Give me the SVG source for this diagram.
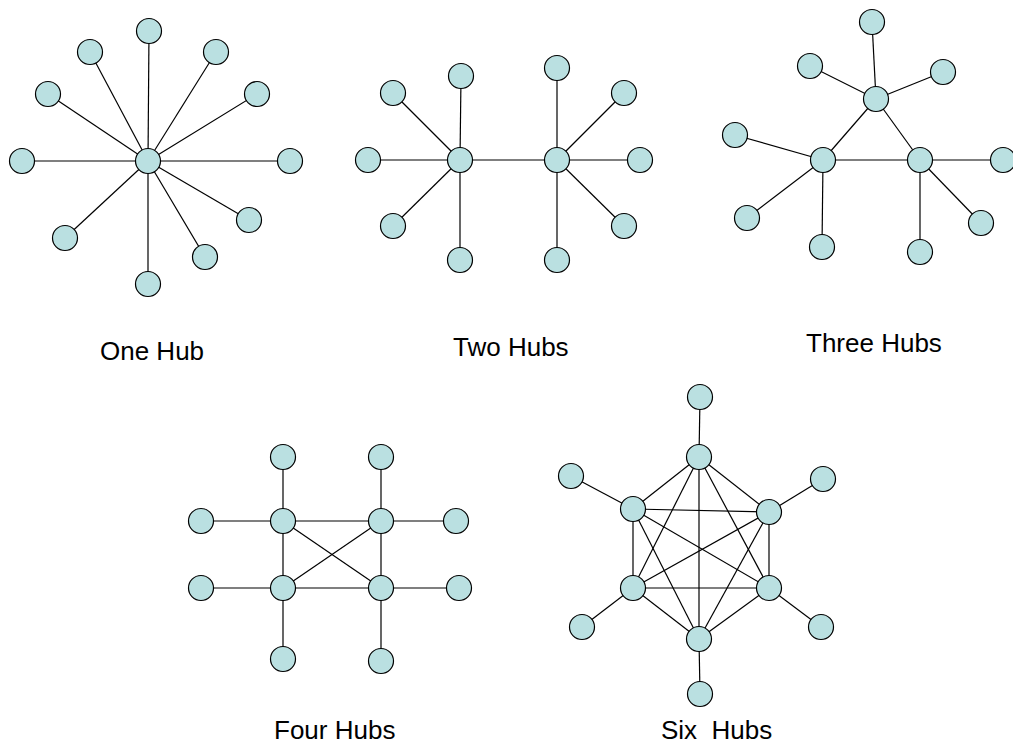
<svg xmlns="http://www.w3.org/2000/svg" width="1013" height="746" viewBox="0 0 1013 746">
<style>
.n{fill:#bae0e1;stroke:#000;stroke-width:1.2}
.e line{stroke:#000;stroke-width:1.2}
.lbl{font-family:"Liberation Sans",Arial,sans-serif;font-size:26px;fill:#000;white-space:pre}
</style>
<defs><circle id="c" r="12.5" class="n"/></defs>
<rect width="1013" height="746" fill="#fff"/>
<g id="connectors" class="e">
<!-- One hub -->
<line x1="148" y1="161" x2="149" y2="31"/>
<line x1="148" y1="161" x2="90" y2="52"/>
<line x1="148" y1="161" x2="216" y2="52"/>
<line x1="148" y1="161" x2="48" y2="94"/>
<line x1="148" y1="161" x2="257" y2="94"/>
<line x1="148" y1="161" x2="22" y2="161"/>
<line x1="148" y1="161" x2="290" y2="161"/>
<line x1="148" y1="161" x2="65" y2="238"/>
<line x1="148" y1="161" x2="249" y2="220"/>
<line x1="148" y1="161" x2="205" y2="257"/>
<line x1="148" y1="161" x2="148" y2="284"/>
<!-- Two hubs -->
<line x1="460" y1="160" x2="557" y2="160"/>
<line x1="460" y1="160" x2="461" y2="76"/>
<line x1="460" y1="160" x2="393" y2="93"/>
<line x1="460" y1="160" x2="368" y2="160"/>
<line x1="460" y1="160" x2="393" y2="226"/>
<line x1="460" y1="160" x2="460" y2="260"/>
<line x1="557" y1="160" x2="557" y2="68"/>
<line x1="557" y1="160" x2="624" y2="93"/>
<line x1="557" y1="160" x2="640" y2="160"/>
<line x1="557" y1="160" x2="624" y2="226"/>
<line x1="557" y1="160" x2="557" y2="260"/>
<!-- Three hubs -->
<line x1="876" y1="99" x2="823" y2="160"/>
<line x1="876" y1="99" x2="920" y2="160"/>
<line x1="823" y1="160" x2="920" y2="160"/>
<line x1="876" y1="99" x2="872" y2="22"/>
<line x1="876" y1="99" x2="810" y2="66"/>
<line x1="876" y1="99" x2="943" y2="72"/>
<line x1="823" y1="160" x2="735" y2="135"/>
<line x1="823" y1="160" x2="747" y2="218"/>
<line x1="823" y1="160" x2="822" y2="247"/>
<line x1="920" y1="160" x2="1003" y2="160"/>
<line x1="920" y1="160" x2="981" y2="223"/>
<line x1="920" y1="160" x2="920" y2="252"/>
<!-- Four hubs -->
<line x1="283" y1="521" x2="381" y2="521"/>
<line x1="283" y1="588" x2="381" y2="588"/>
<line x1="283" y1="521" x2="283" y2="588"/>
<line x1="381" y1="521" x2="381" y2="588"/>
<line x1="283" y1="521" x2="381" y2="588"/>
<line x1="381" y1="521" x2="283" y2="588"/>
<line x1="283" y1="521" x2="283" y2="457"/>
<line x1="381" y1="521" x2="381" y2="457"/>
<line x1="283" y1="521" x2="201" y2="521"/>
<line x1="283" y1="588" x2="201" y2="588"/>
<line x1="381" y1="521" x2="456" y2="521"/>
<line x1="381" y1="588" x2="459" y2="588"/>
<line x1="283" y1="588" x2="283" y2="659"/>
<line x1="381" y1="588" x2="381" y2="661"/>
<!-- Six hubs -->
<line x1="699" y1="457" x2="633" y2="509"/>
<line x1="699" y1="457" x2="769" y2="512"/>
<line x1="699" y1="457" x2="633" y2="588"/>
<line x1="699" y1="457" x2="769" y2="588"/>
<line x1="699" y1="457" x2="699" y2="639"/>
<line x1="633" y1="509" x2="769" y2="512"/>
<line x1="633" y1="509" x2="633" y2="588"/>
<line x1="633" y1="509" x2="769" y2="588"/>
<line x1="633" y1="509" x2="699" y2="639"/>
<line x1="769" y1="512" x2="633" y2="588"/>
<line x1="769" y1="512" x2="769" y2="588"/>
<line x1="769" y1="512" x2="699" y2="639"/>
<line x1="633" y1="588" x2="769" y2="588"/>
<line x1="633" y1="588" x2="699" y2="639"/>
<line x1="769" y1="588" x2="699" y2="639"/>
<line x1="699" y1="457" x2="700" y2="397"/>
<line x1="633" y1="509" x2="571" y2="476"/>
<line x1="769" y1="512" x2="823" y2="479"/>
<line x1="633" y1="588" x2="582" y2="627"/>
<line x1="769" y1="588" x2="821" y2="627"/>
<line x1="699" y1="639" x2="700" y2="694"/>
</g>
<g id="one-hub">
<use href="#c" x="148" y="161"/><use href="#c" x="149" y="31"/><use href="#c" x="90" y="52"/><use href="#c" x="216" y="52"/>
<use href="#c" x="48" y="94"/><use href="#c" x="257" y="94"/><use href="#c" x="22" y="161"/><use href="#c" x="290" y="161"/>
<use href="#c" x="65" y="238"/><use href="#c" x="249" y="220"/><use href="#c" x="205" y="257"/><use href="#c" x="148" y="284"/>
<text class="lbl" x="100" y="360">One Hub</text>
</g>
<g id="two-hubs">
<use href="#c" x="460" y="160"/><use href="#c" x="557" y="160"/>
<use href="#c" x="461" y="76"/><use href="#c" x="393" y="93"/><use href="#c" x="368" y="160"/><use href="#c" x="393" y="226"/><use href="#c" x="460" y="260"/>
<use href="#c" x="557" y="68"/><use href="#c" x="624" y="93"/><use href="#c" x="640" y="160"/><use href="#c" x="624" y="226"/><use href="#c" x="557" y="260"/>
<text class="lbl" x="453" y="356">Two Hubs</text>
</g>
<g id="three-hubs">
<use href="#c" x="876" y="99"/><use href="#c" x="823" y="160"/><use href="#c" x="920" y="160"/>
<use href="#c" x="872" y="22"/><use href="#c" x="810" y="66"/><use href="#c" x="943" y="72"/>
<use href="#c" x="735" y="135"/><use href="#c" x="747" y="218"/><use href="#c" x="822" y="247"/>
<use href="#c" x="1003" y="160"/><use href="#c" x="981" y="223"/><use href="#c" x="920" y="252"/>
<text class="lbl" x="806" y="352">Three Hubs</text>
</g>
<g id="four-hubs">
<use href="#c" x="283" y="521"/><use href="#c" x="381" y="521"/><use href="#c" x="283" y="588"/><use href="#c" x="381" y="588"/>
<use href="#c" x="283" y="457"/><use href="#c" x="381" y="457"/><use href="#c" x="201" y="521"/><use href="#c" x="201" y="588"/>
<use href="#c" x="456" y="521"/><use href="#c" x="459" y="588"/><use href="#c" x="283" y="659"/><use href="#c" x="381" y="661"/>
<text class="lbl" x="274" y="739">Four Hubs</text>
</g>
<g id="six-hubs">
<use href="#c" x="699" y="457"/><use href="#c" x="633" y="509"/><use href="#c" x="769" y="512"/>
<use href="#c" x="633" y="588"/><use href="#c" x="769" y="588"/><use href="#c" x="699" y="639"/>
<use href="#c" x="700" y="397"/><use href="#c" x="571" y="476"/><use href="#c" x="823" y="479"/>
<use href="#c" x="582" y="627"/><use href="#c" x="821" y="627"/><use href="#c" x="700" y="694"/>
<text class="lbl" x="661" y="739" xml:space="preserve">Six  Hubs</text>
</g>
</svg>
